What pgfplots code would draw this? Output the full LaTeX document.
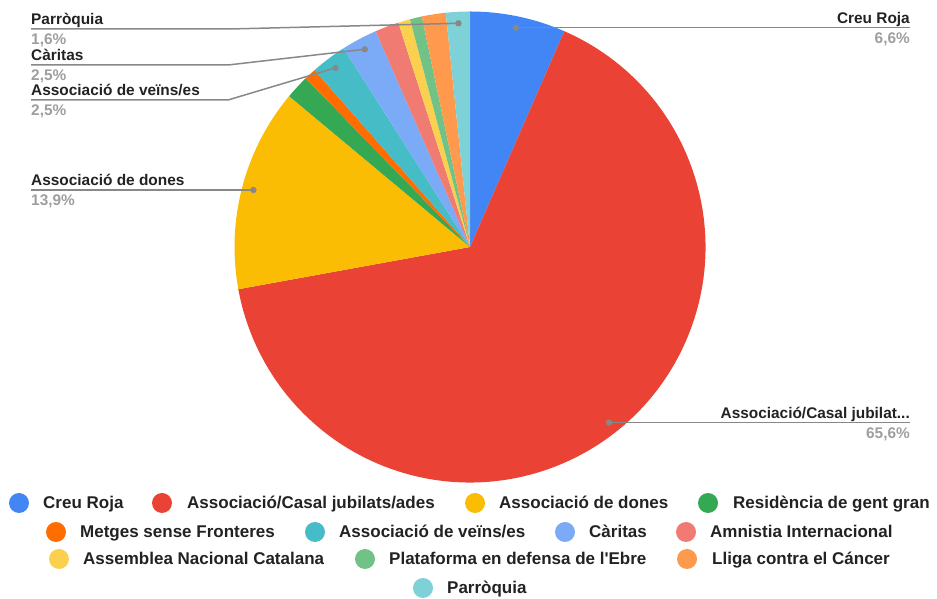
\documentclass[border=0pt]{standalone}
\usepackage{pgfplots}
\usepackage{pgfplotstable}
\pgfplotsset{compat=1.18}
\usepackage{fontspec}
\setmainfont{Liberation Sans}

\definecolor{cCreu}{HTML}{4285F4}
\definecolor{cCasal}{HTML}{EA4335}
\definecolor{cDones}{HTML}{FBBC04}
\definecolor{cResid}{HTML}{34A853}
\definecolor{cMetges}{HTML}{FF6D01}
\definecolor{cVeins}{HTML}{46BDC6}
\definecolor{cCaritas}{HTML}{7BAAF7}
\definecolor{cAmnistia}{HTML}{F07B72}
\definecolor{cAssemblea}{HTML}{FCD04F}
\definecolor{cPlataforma}{HTML}{71C287}
\definecolor{cLliga}{HTML}{FF994D}
\definecolor{cParroquia}{HTML}{7ED1D7}
\definecolor{txt}{HTML}{222222}
\definecolor{pct}{HTML}{9E9E9E}
\definecolor{lineg}{HTML}{888888}

\newcommand\lbl{\fontsize{15.4}{18}\selectfont\bfseries}
\newcommand\leg{\fontsize{17}{20}\selectfont\bfseries}

% responses per organisation (122 in total)
\pgfplotstableread[col sep=comma]{
key,count,col
creu,8,cCreu
casal,80,cCasal
dones,17,cDones
resid,2,cResid
metges,1,cMetges
veins,3,cVeins
caritas,3,cCaritas
amnistia,2,cAmnistia
assemblea,1,cAssemblea
plataforma,1,cPlataforma
lliga,2,cLliga
parroquia,2,cParroquia
}\pietable

\newcommand\legitem[5]{%
  \fill[#4] (axis cs:#1,#2) circle[radius=10pt];
  \node[anchor=base west, font=\leg, text=txt, inner sep=0pt] at (axis cs:#3,#2-6) {#5};
}

\begin{document}
\begin{tikzpicture}
\begin{axis}[
  x=1pt, y=1pt,
  xmin=0, xmax=937, ymin=0, ymax=599,
  hide axis, clip=false, disabledatascaling,
  scale only axis,
]
\path (axis cs:0,0) rectangle (axis cs:937,599);

\def\total{0}
\pgfplotsforeachungrouped \i in {0,...,11}{%
  \pgfplotstablegetelem{\i}{count}\of\pietable
  \pgfmathsetmacro\total{\total+\pgfplotsretval}%
}

\def\cum{0}
\pgfplotsforeachungrouped \i in {0,...,11}{%
  \pgfplotstablegetelem{\i}{count}\of\pietable \let\v\pgfplotsretval
  \pgfplotstablegetelem{\i}{col}\of\pietable \let\col\pgfplotsretval
  \pgfmathsetmacro\aS{90-\cum/\total*360}%
  \pgfmathsetmacro\cum{\cum+\v}%
  \pgfmathsetmacro\aE{90-\cum/\total*360}%
  \pgfmathsetmacro\aM{(\aS+\aE)/2}%
  \edef\cmd{%
    \noexpand\fill[\col] (axis cs:470,352) -- ++(\aS:235.5pt)
      arc[start angle=\aS, end angle=\aE, radius=235.5pt] -- cycle;
    \noexpand\coordinate (d\i) at ([shift={(\aM:224pt)}]axis cs:470,352);
  }\cmd
}

% leader lines
\draw[lineg, line width=1.5pt] (d0) -- (d0 -| {axis cs:910,0});
\draw[lineg, line width=1.5pt] (d1) -- (d1 -| {axis cs:910,0});
\draw[lineg, line width=1.5pt] (d2) -- (d2 -| {axis cs:31,0});
\draw[lineg, line width=1.5pt] (axis cs:31,570) -- (axis cs:230,570) -- (d11);
\draw[lineg, line width=1.5pt] (axis cs:31,534) -- (axis cs:228,534) -- (d6);
\draw[lineg, line width=1.5pt] (axis cs:31,499) -- (axis cs:228,499) -- (d5);
\fill[lineg] (d0) circle[radius=3.2pt];
\fill[lineg] (d1) circle[radius=3.2pt];
\fill[lineg] (d2) circle[radius=3.2pt];
\fill[lineg] (d5) circle[radius=3.2pt];
\fill[lineg] (d6) circle[radius=3.2pt];
\fill[lineg] (d11) circle[radius=3.2pt];

% labels
\node[anchor=base east, font=\lbl, text=txt, inner sep=0pt] at (axis cs:910,575.8) {Creu Roja};
\node[anchor=base east, font=\lbl, text=pct, inner sep=0pt] at (axis cs:910,555.5) {6,6\%};
\node[anchor=base east, font=\lbl, text=txt, inner sep=0pt] at (axis cs:910,180.8) {Associació/Casal jubilat...};
\node[anchor=base east, font=\lbl, text=pct, inner sep=0pt] at (axis cs:910,160.5) {65,6\%};
\node[anchor=base west, font=\lbl, text=txt, inner sep=0pt] at (axis cs:31,413.5) {Associació de dones};
\node[anchor=base west, font=\lbl, text=pct, inner sep=0pt] at (axis cs:31,393.2) {13,9\%};
\node[anchor=base west, font=\lbl, text=txt, inner sep=0pt] at (axis cs:31,574.5) {Parròquia};
\node[anchor=base west, font=\lbl, text=pct, inner sep=0pt] at (axis cs:31,554.5) {1,6\%};
\node[anchor=base west, font=\lbl, text=txt, inner sep=0pt] at (axis cs:31,538.5) {Càritas};
\node[anchor=base west, font=\lbl, text=pct, inner sep=0pt] at (axis cs:31,518.5) {2,5\%};
\node[anchor=base west, font=\lbl, text=txt, inner sep=0pt] at (axis cs:31,503.5) {Associació de veïns/es};
\node[anchor=base west, font=\lbl, text=pct, inner sep=0pt] at (axis cs:31,483.5) {2,5\%};

% legend
\legitem{19}{96}{43}{cCreu}{Creu Roja}
\legitem{162}{96}{187}{cCasal}{Associació/Casal jubilats/ades}
\legitem{475}{96}{499}{cDones}{Associació de dones}
\legitem{708}{96}{733}{cResid}{Residència de gent gran}
\legitem{56}{67}{80}{cMetges}{Metges sense Fronteres}
\legitem{315}{67}{339}{cVeins}{Associació de veïns/es}
\legitem{565}{67}{589}{cCaritas}{Càritas}
\legitem{686}{67}{710}{cAmnistia}{Amnistia Internacional}
\legitem{59}{40}{83}{cAssemblea}{Assemblea Nacional Catalana}
\legitem{365}{40}{389}{cPlataforma}{Plataforma en defensa de l\textquotesingle Ebre}
\legitem{687}{40}{712}{cLliga}{Lliga contra el Cáncer}
\legitem{423}{11}{447}{cParroquia}{Parròquia}
\end{axis}
\end{tikzpicture}
\end{document}
